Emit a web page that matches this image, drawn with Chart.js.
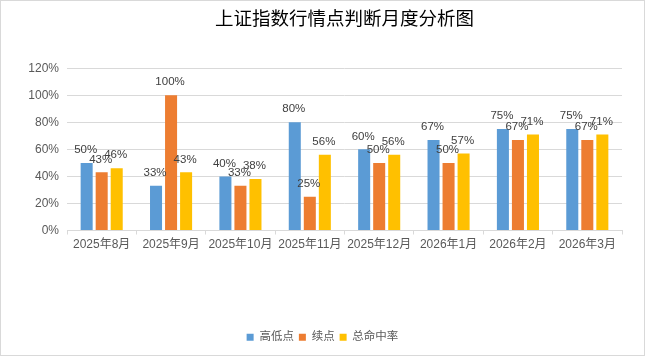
<!DOCTYPE html>
<html><head><meta charset="utf-8">
<script src="https://cdn.jsdelivr.net/npm/chart.js@4/dist/chart.umd.min.js"></script>
<style>html,body{margin:0;padding:0;background:#fff}#w{width:645px;height:356px;position:relative}</style>
</head><body><div id="w"><canvas id="c" width="645" height="356"></canvas></div>
<script>
const categories = ['2025年8月','2025年9月','2025年10月','2025年11月','2025年12月','2026年1月','2026年2月','2026年3月'];
const seriesNames = ['高低点','续点','总命中率'];
const highLow = [50, 33, 40, 80, 60, 67, 75, 75];
const continuation = [43, 100, 33, 25, 50, 50, 67, 67];
const totalHit = [46, 43, 38, 56, 56, 57, 71, 71];
const yTicks = [0, 20, 40, 60, 80, 100, 120];
const titleText = '上证指数行情点判断月度分析图';
const colors = ['#5B9BD5', '#ED7D31', '#FFC000'];
const FONT = '"Liberation Sans", Arial, "Noto Sans CJK SC", sans-serif';

const bgBorder = {
  id: 'bgBorder',
  beforeDraw(chart) {
    const ctx = chart.ctx;
    ctx.save();
    ctx.fillStyle = '#fff';
    ctx.fillRect(0, 0, chart.width, chart.height);
    ctx.strokeStyle = '#d9d9d9';
    ctx.lineWidth = 1;
    ctx.strokeRect(0.5, 0.5, chart.width - 1, chart.height - 1);
    ctx.restore();
  }
};
const valueLabels = {
  id: 'valueLabels',
  afterDatasetsDraw(chart) {
    const ctx = chart.ctx;
    ctx.save();
    ctx.font = '11.5px ' + FONT;
    ctx.fillStyle = '#404040';
    ctx.textAlign = 'center';
    ctx.textBaseline = 'middle';
    chart.data.datasets.forEach((ds, i) => {
      chart.getDatasetMeta(i).data.forEach((bar, j) => {
        ctx.fillText(ds.data[j] + '%', bar.x - 1, bar.y - 13);
      });
    });
    ctx.restore();
  }
};

new Chart(document.getElementById('c'), {
  type: 'bar',
  data: {
    labels: categories,
    datasets: [
      { label: seriesNames[0], data: highLow, backgroundColor: colors[0] },
      { label: seriesNames[1], data: continuation, backgroundColor: colors[1] },
      { label: seriesNames[2], data: totalHit, backgroundColor: colors[2] }
    ]
  },
  options: {
    responsive: false,
    animation: false,
    devicePixelRatio: 1,
    categoryPercentage: 0.65,
    barPercentage: 0.8,
    layout: { padding: { left: 23, right: 23, top: 0, bottom: 3 } },
    plugins: {
      title: {
        display: true, text: titleText, fullSize: false,
        color: '#000', font: { family: '"Noto Sans CJK SC", sans-serif', size: 18.5, weight: 'normal' },
        padding: { top: 7, bottom: 39 }
      },
      legend: {
        position: 'bottom',
        labels: {
          color: '#595959', font: { family: FONT, size: 11.5 },
          boxWidth: 7, boxHeight: 7, padding: 5
        }
      },
      tooltip: { enabled: false }
    },
    scales: {
      x: {
        grid: { display: true, drawOnChartArea: false, drawTicks: true, tickLength: 4, color: '#d9d9d9' },
        border: { color: '#d9d9d9' },
        ticks: { color: '#595959', font: { family: FONT, size: 12 }, maxRotation: 0, autoSkip: false, padding: 3 },
        afterFit(s) { s.height = 96; }
      },
      y: {
        min: 0, max: 120,
        afterBuildTicks(s) { s.ticks = yTicks.map(v => ({ value: v })); },
        grid: { color: '#d9d9d9', drawTicks: false },
        border: { display: false },
        ticks: { color: '#595959', font: { family: FONT, size: 12 }, padding: 8, callback: v => v + '%' },
        afterFit(s) { s.width = 44; }
      }
    }
  },
  plugins: [bgBorder, valueLabels]
});
</script></body></html>
